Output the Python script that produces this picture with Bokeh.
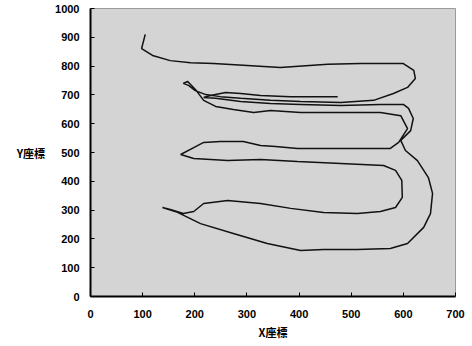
from bokeh.plotting import figure
from bokeh.models import Label, Range1d, FixedTicker
from bokeh.embed import file_html
from bokeh.resources import INLINE

# Trajectory (X座標, Y座標), in drawing order
path_x = [105, 98, 119, 153, 192, 236, 301, 364, 455, 518, 600, 620, 623, 608, 581,
          543, 480, 403, 345, 288, 249, 221, 201, 188, 178, 186, 192, 203,
          217, 240, 274, 313, 345, 403, 480, 556, 595, 608, 591, 575,
          518, 460, 397, 355, 326, 293, 249, 217, 198, 173,
          198, 263, 326, 397, 480, 562, 585, 597, 598, 585, 556, 512, 447, 384, 326, 263, 217, 198, 178, 153, 138,
          167, 211, 274, 339, 403, 447, 512, 575, 608, 639, 652, 656, 648, 627, 604, 595, 614, 619, 610, 600,
          556, 480, 403, 345, 288, 240, 217,
          230, 259, 288, 326, 384, 474]
path_y = [910, 861, 837, 819, 812, 809, 802, 795, 806, 809, 809, 785, 757, 726, 705,
          681, 674, 677, 681, 688, 694, 701, 715, 733, 740, 747, 736, 715,
          681, 660, 649, 639, 646, 639, 639, 639, 628, 583, 535, 514,
          514, 514, 514, 521, 524, 538, 538, 535, 517, 493,
          479, 472, 476, 469, 462, 455, 438, 403, 344, 309, 295, 288, 292, 306, 323, 333, 323, 295, 288, 302, 309,
          292, 253, 219, 184, 160, 163, 163, 167, 184, 240, 288, 358, 413, 472, 507, 542, 576, 618, 653, 667,
          667, 663, 667, 670, 677, 688, 691,
          698, 708, 705, 698, 694, 694]

x_ticks = [0, 100, 200, 300, 400, 500, 600, 700]
y_ticks = [0, 100, 200, 300, 400, 500, 600, 700, 800, 900, 1000]
x_label = "X座標"
y_label = "Y座標"

p = figure(width=470, height=344, output_backend="svg", toolbar_location=None,
           x_range=Range1d(0, 700), y_range=Range1d(0, 1000),
           min_border_left=90, min_border_right=15, min_border_top=8, min_border_bottom=48)

p.background_fill_color = "#d4d4d4"
p.border_fill_color = "white"
p.outline_line_color = "#9a9a9a"
p.grid.visible = False

p.line(path_x, path_y, line_color="#111111", line_width=1.5)

for ax in (p.xaxis[0], p.yaxis[0]):
    ax.axis_line_color = "black"
    ax.axis_line_width = 2
    ax.major_tick_in = 4
    ax.major_tick_out = 0
    ax.major_tick_line_color = "black"
    ax.minor_tick_line_color = None
    ax.major_label_text_font = "Liberation Sans"
    ax.major_label_text_font_style = "bold"
    ax.major_label_text_font_size = "11px"
    ax.major_label_text_color = "black"
    ax.axis_label_text_font = "Noto Sans CJK JP"
    ax.axis_label_text_font_style = "bold"
    ax.axis_label_text_font_size = "11px"
    ax.axis_label_text_color = "black"

p.xaxis[0].ticker = FixedTicker(ticks=x_ticks)
p.yaxis[0].ticker = FixedTicker(ticks=y_ticks)
p.xaxis[0].major_label_standoff = 13
p.yaxis[0].major_label_standoff = 11

p.xaxis[0].axis_label = x_label
p.xaxis[0].axis_label_standoff = 3

try:
    p.yaxis[0].axis_label_orientation = "horizontal"
    p.yaxis[0].axis_label = y_label
    p.yaxis[0].axis_label_standoff = 7
except AttributeError:
    p.add_layout(Label(x=-100, y=500, text=y_label, text_align="center", text_baseline="middle",
                       text_font="Noto Sans CJK JP", text_font_style="bold", text_font_size="11px",
                       text_color="black"))

open("out.html", "w").write(file_html(p, INLINE))
